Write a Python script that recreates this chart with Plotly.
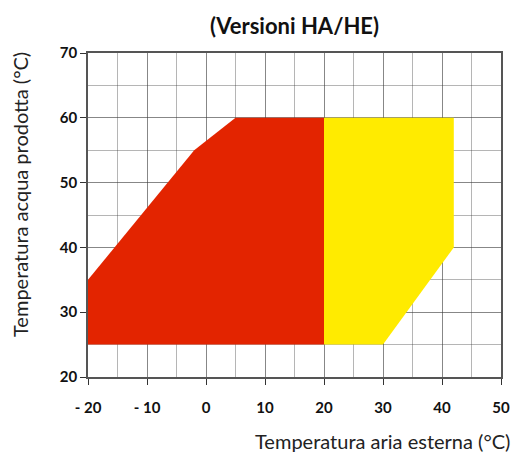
import plotly.graph_objects as go

# Operating envelope polygons (air temp °C, water temp °C)
red_x = [-20, -20, -2, 5, 20, 20]
red_y = [25, 35, 55, 60, 60, 25]
yellow_x = [20, 20, 42, 42, 30]
yellow_y = [25, 60, 60, 40, 25]

x_ticks = [-20, -10, 0, 10, 20, 30, 40, 50]
y_ticks = [20, 30, 40, 50, 60, 70]

fig = go.Figure()
fig.add_trace(go.Scatter(x=red_x, y=red_y, fill="toself", fillcolor="#E32400",
                         mode="lines", line=dict(width=0), hoverinfo="skip", showlegend=False))
fig.add_trace(go.Scatter(x=yellow_x, y=yellow_y, fill="toself", fillcolor="#FFEB00",
                         mode="lines", line=dict(width=0), hoverinfo="skip", showlegend=False))

grid = "rgba(60,60,60,0.38)"
FONT = "Lato"
font_bold = dict(family=FONT, size=15, color="#111")

fig.update_layout(
    width=513, height=453,
    margin=dict(l=88, r=12, t=53, b=76),
    paper_bgcolor="white", plot_bgcolor="white",
    title=dict(text="<b>(Versioni HA/HE)</b>", x=0.5, xanchor="center", xref="paper",
               y=1 - 26 / 453, yanchor="middle", yref="container",
               font=dict(family=FONT, size=22, color="#111")),
    xaxis=dict(range=[-20, 50], tickmode="array", tickvals=x_ticks,
               ticktext=[f"<b>{'- ' + str(-v) if v < 0 else v}</b>" for v in x_ticks],
               tickfont=font_bold, ticks="outside", ticklen=6, tickcolor="#333",
               showgrid=True, gridcolor=grid, gridwidth=1,
               minor=dict(dtick=5, tick0=0, showgrid=True, gridcolor=grid, gridwidth=1),
               showline=True, linecolor="#555", linewidth=1.5, mirror=True,
               zeroline=False, layer="above traces", ticklabelstandoff=10,
               automargin=False),
    yaxis=dict(range=[20, 70], tickmode="array", tickvals=y_ticks,
               ticktext=[f"<b>{v}</b>" for v in y_ticks],
               tickfont=font_bold, ticks="outside", ticklen=6, tickcolor="#333",
               showgrid=True, gridcolor=grid, gridwidth=1,
               minor=dict(dtick=5, tick0=0, showgrid=True, gridcolor=grid, gridwidth=1),
               showline=True, linecolor="#555", linewidth=1.5, mirror=True,
               zeroline=False, layer="above traces", automargin=False),
)

fig.add_annotation(text="Temperatura acqua prodotta (°C)", xref="paper", yref="paper",
                   x=0, xshift=-68, y=(377 - 195) / 324, xanchor="center", yanchor="middle",
                   textangle=-90, showarrow=False,
                   font=dict(family=FONT, size=20, color="#222"))

fig.add_annotation(text="Temperatura aria esterna (°C)", xref="paper", yref="paper",
                   x=1, y=-(441 - 377) / 324, xanchor="right", yanchor="middle", xshift=11,
                   showarrow=False, font=dict(family=FONT, size=20, color="#222"))

fig.write_html("out.html", config={"displayModeBar": False},
               post_script="document.body.style.margin='0';document.body.style.overflow='hidden';")
